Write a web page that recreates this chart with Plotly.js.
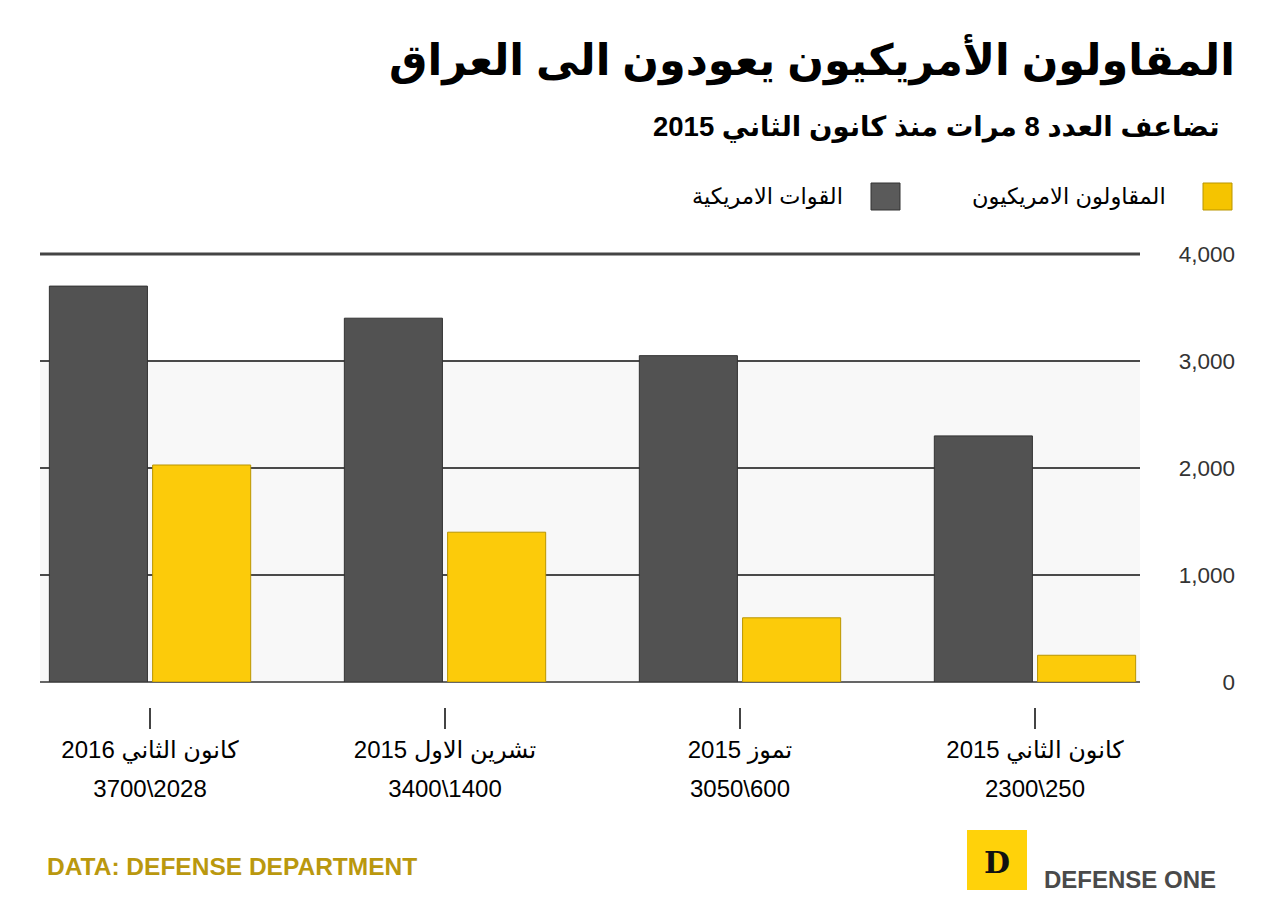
<!DOCTYPE html>
<html><head><meta charset="utf-8">
<script src="https://cdn.plot.ly/plotly-3.0.1.min.js"></script>
<style>html,body{margin:0;padding:0;background:#fff}#chart{width:1263px;height:917px}</style>
</head><body><div id="chart"></div><script>
// ---- data ----
const periods = ["كانون الثاني 2015", "تموز 2015", "تشرين الاول 2015", "كانون الثاني 2016"];
const contractors = [250, 600, 1400, 2028];
const troops = [2300, 3050, 3400, 3700];
const valueLabels = ["2300\\250", "3050\\600", "3400\\1400", "3700\\2028"];
const yTicks = [0, 1000, 2000, 3000, 4000];
const yTickText = ["0", "1,000", "2,000", "3,000", "4,000"];
const seriesNames = ["القوات الامريكية", "المقاولون الامريكيون"];
const titleText = "المقاولون الأمريكيون يعودون الى العراق";
const subtitleText = "تضاعف العدد 8 مرات منذ كانون الثاني 2015";

// ---- geometry helpers (page pixels -> paper) ----
const W = 1263, H = 917;
const ML = 40, MR = 28, MT = 254, MB = 210;
const PW = W - ML - MR, PH = H - MT - MB;
const px = x => (x - ML) / PW;
const py = y => (H - MB - y) / PH;
const FONT = "Liberation Sans, Arial, DejaVu Sans, sans-serif";
const xDomain = [0, (1140 - ML) / PW];
const xRange = [3.373, -0.356];
const yMax = yTicks[yTicks.length - 1];

const traces = [
  {
    type: "bar", name: seriesNames[1], x: periods, y: contractors,
    marker: {color: "#FCCB0A", line: {color: "#B99500", width: 1}},
    hoverinfo: "y"
  },
  {
    type: "bar", name: seriesNames[0], x: periods, y: troops,
    marker: {color: "#525252", line: {color: "#333333", width: 1}},
    hoverinfo: "y"
  },
  {
    type: "scatter", mode: "markers", x: periods, y: troops, xaxis: "x2",
    marker: {opacity: 0}, hoverinfo: "skip", showlegend: false
  }
];

const layout = {
  width: W, height: H,
  margin: {l: ML, r: MR, t: MT, b: MB, pad: 0},
  paper_bgcolor: "#ffffff", plot_bgcolor: "rgba(0,0,0,0)",
  showlegend: false,
  barmode: "group", bargap: 0.3, bargroupgap: 0.05,
  font: {family: FONT, color: "#000"},
  xaxis: {
    type: "category", categoryorder: "array", categoryarray: periods,
    domain: xDomain, range: xRange,
    tickvals: periods, ticktext: valueLabels,
    ticks: "", showgrid: false, showline: false, zeroline: false,
    tickfont: {size: 24, color: "#000", family: FONT},
    ticklabelstandoff: 90
  },
  xaxis2: {
    type: "category", categoryorder: "array", categoryarray: periods,
    overlaying: "x", anchor: "free", position: 0, side: "bottom",
    domain: xDomain, range: xRange,
    tickvals: periods, ticktext: periods,
    ticks: "outside", ticklen: 21, tickwidth: 2, tickcolor: "#444",
    showgrid: false, showline: false, zeroline: false,
    tickfont: {size: 24, color: "#000", family: FONT}
  },
  yaxis: {
    domain: [py(682), 1], range: [0, yMax],
    anchor: "free", position: 1, side: "left",
    tickvals: yTicks, ticktext: yTickText,
    ticks: "", showline: false,
    showgrid: true, gridcolor: "#4a4a4a", gridwidth: 2,
    zeroline: true, zerolinecolor: "#666", zerolinewidth: 2,
    tickfont: {size: 22.5, color: "#333", family: FONT}
  },
  shapes: [
    {type: "rect", xref: "x domain", yref: "y", x0: 0, x1: 1, y0: 0, y1: 3000,
     fillcolor: "#f8f8f8", line: {width: 0}, layer: "below"},
    {type: "line", xref: "paper", yref: "paper", x0: 0, x1: xDomain[1], y0: 1, y1: 1,
     line: {color: "#444", width: 3}},
    {type: "rect", xref: "paper", yref: "paper", x0: px(1203), x1: px(1232), y0: py(210), y1: py(183),
     fillcolor: "#F5C400", line: {color: "#B99500", width: 1}},
    {type: "rect", xref: "paper", yref: "paper", x0: px(871), x1: px(900), y0: py(210), y1: py(183),
     fillcolor: "#5a5a5a", line: {color: "#333", width: 1}},
    {type: "rect", xref: "paper", yref: "paper", x0: px(967), x1: px(1027), y0: py(890), y1: py(830),
     fillcolor: "#FFD20A", line: {width: 0}}
  ],
  annotations: [
    {xref: "paper", yref: "paper", x: px(1237), y: py(60), xanchor: "right", yanchor: "middle",
     text: "<b>" + titleText + "</b>", showarrow: false, font: {size: 43, color: "#000", family: FONT}},
    {xref: "paper", yref: "paper", x: px(1222), y: py(127), xanchor: "right", yanchor: "middle",
     text: "<b>" + subtitleText + "</b>", showarrow: false, font: {size: 27.5, color: "#000", family: FONT}},
    {xref: "paper", yref: "paper", x: px(1168), y: py(197), xanchor: "right", yanchor: "middle",
     text: seriesNames[1], showarrow: false, font: {size: 22.5, color: "#000", family: FONT}},
    {xref: "paper", yref: "paper", x: px(845), y: py(197), xanchor: "right", yanchor: "middle",
     text: seriesNames[0], showarrow: false, font: {size: 22.5, color: "#000", family: FONT}},
    {xref: "paper", yref: "paper", x: px(45), y: py(866), xanchor: "left", yanchor: "middle",
     text: "<b>DATA: DEFENSE DEPARTMENT</b>", showarrow: false, font: {size: 24.5, color: "#BA980E", family: FONT}},
    {xref: "paper", yref: "paper", x: px(997), y: py(862), xanchor: "center", yanchor: "middle",
     text: "<b>D</b>", showarrow: false, font: {size: 30, color: "#111", family: "DejaVu Serif, Liberation Serif, serif"}},
    {xref: "paper", yref: "paper", x: px(1042), y: py(879), xanchor: "left", yanchor: "middle",
     text: "<b>DEFENSE ONE</b>", showarrow: false, font: {size: 24, color: "#4a4a4a", family: FONT}}
  ]
};

Plotly.newPlot("chart", traces, layout, {displayModeBar: false, staticPlot: true});
</script></body></html>
